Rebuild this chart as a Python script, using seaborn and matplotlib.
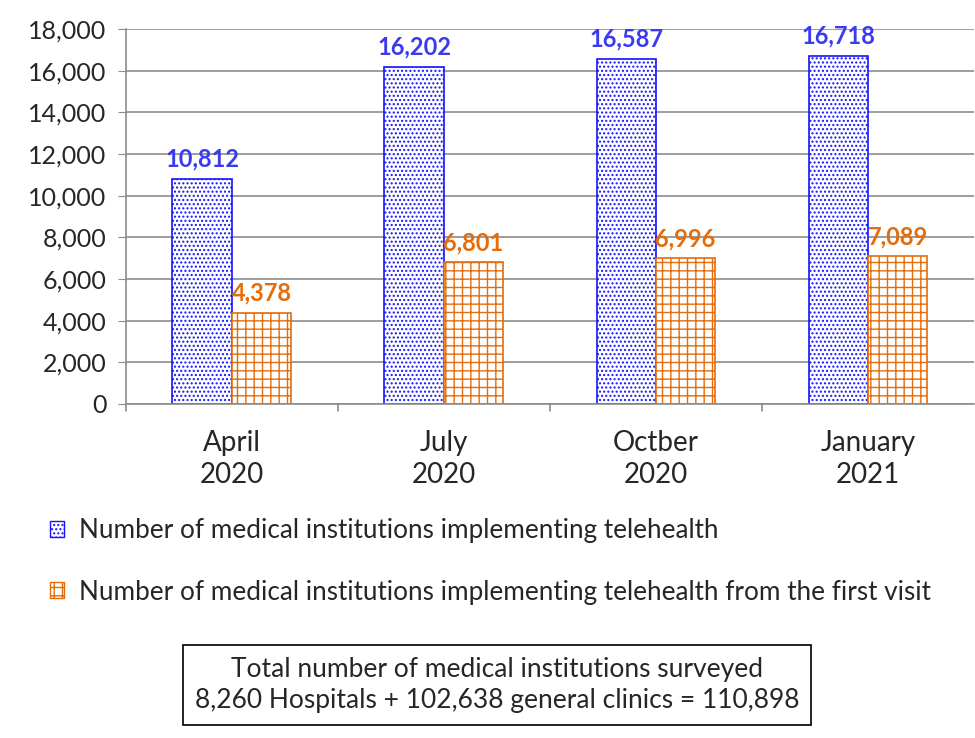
import matplotlib
matplotlib.use("Agg")
import matplotlib.pyplot as plt
import seaborn as sns
import pandas as pd
from matplotlib.patches import Patch

categories = ["April\n2020", "July\n2020", "Octber\n2020", "January\n2021"]
series_names = ["Number of medical institutions implementing telehealth",
                "Number of medical institutions implementing telehealth from the first visit"]
telehealth = [10812, 16202, 16587, 16718]
first_visit = [4378, 6801, 6996, 7089]
y_ticks = [0, 2000, 4000, 6000, 8000, 10000, 12000, 14000, 16000, 18000]

sns.set_style("white")
plt.rcParams['font.family'] = ['Lato', 'DejaVu Sans']
plt.rcParams['hatch.linewidth'] = 1.0

df = pd.DataFrame({
    "cat": categories * 2,
    "series": [series_names[0]] * 4 + [series_names[1]] * 4,
    "value": telehealth + first_visit,
})

edge_colors = ["#1414FF", "#E46C0A"]
label_colors = ["#3A3AF0", "#E46C0A"]
hatches = ["....", "++"]

fig = plt.figure(figsize=(9.75, 7.38), dpi=100)
ax = fig.add_axes([0.129, 0.4526, 0.87, 0.508])
sns.barplot(data=df, x="cat", y="value", hue="series", hue_order=series_names,
            palette=["white", "white"], width=0.56, gap=0, ax=ax, legend=False,
            saturation=1)

for i, cont in enumerate(ax.containers):
    for bar in cont:
        bar.set_facecolor("white")
        bar.set_edgecolor(edge_colors[i])
        bar.set_hatch(hatches[i])
        bar.set_linewidth(1.2)
    ax.bar_label(cont, labels=[f"{v:,.0f}" for v in cont.datavalues], padding=6,
                 color=label_colors[i], fontsize=17, fontweight="bold")

ax.set_ylim(0, 18000)
ax.set_xlim(-0.5, 3.5)
ax.set_yticks(y_ticks)
ax.set_yticklabels([f"{t:,}" for t in y_ticks], fontsize=18)
ax.yaxis.grid(True, color="#8c8c8c", linewidth=1.2)
ax.set_axisbelow(True)
ax.set_xticks([0, 1, 2, 3])
ax.set_xticklabels(categories, fontsize=20, linespacing=1.25)
ax.tick_params(axis="x", length=0, pad=19)
ax.tick_params(axis="y", length=6, color="#8c8c8c", direction="out", left=True, pad=8)
# boundary ticks on x axis
for xb in [-0.5, 0.5, 1.5, 2.5]:
    ax.plot([xb, xb], [0, -350], color="#8c8c8c", lw=1.2, clip_on=False)
ax.set_xlabel("")
ax.set_ylabel("")
for s in ["top", "right"]:
    ax.spines[s].set_visible(False)
ax.spines["left"].set_color("#8c8c8c")
ax.spines["bottom"].set_color("#8c8c8c")
ax.spines["left"].set_linewidth(1.2)
ax.spines["bottom"].set_linewidth(1.2)

handles = [Patch(facecolor="white", edgecolor=edge_colors[i], hatch=hatches[i]) for i in range(2)]
fig.legend(handles, series_names, loc="upper left", bbox_to_anchor=(0.027, 0.33),
           frameon=False, fontsize=18.8, handlelength=0.55, handleheight=0.55,
           labelspacing=1.4, handletextpad=0.55)

fig.text(0.510, 0.072, "Total number of medical institutions surveyed\n8,260 Hospitals + 102,638 general clinics = 110,898",
         ha="center", va="center", fontsize=19, linespacing=1.3,
         bbox=dict(boxstyle="square,pad=0.45", facecolor="white", edgecolor="black", linewidth=1.2))

fig.savefig("out.png", dpi=100)
